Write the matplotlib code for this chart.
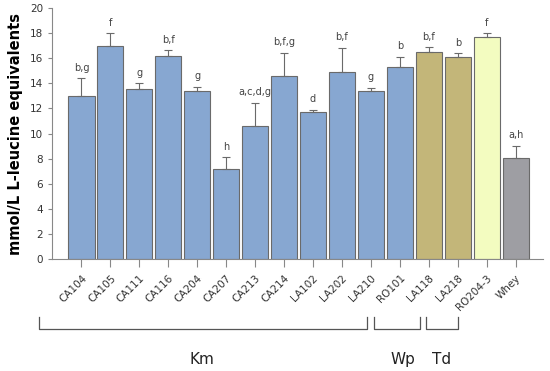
import numpy as np
import matplotlib.pyplot as plt
import matplotlib.transforms as mtransforms

# Dados
cepas = ["CA104", "CA105", "CA111", "CA116", "CA204", "CA207", "CA213", "CA214",
         "LA102", "LA202", "LA210", "RO101", "LA118", "LA218", "RO204-3", "Whey"]
medias = [13.0, 17.0, 13.55, 16.2, 13.4, 7.2, 10.6, 14.58,
          11.7, 14.93, 13.38, 15.3, 16.52, 16.1, 17.67, 8.09]
topo_erro = [14.4, 18.0, 14.0, 16.65, 13.75, 8.1, 12.45, 16.45,
             11.87, 16.85, 13.65, 16.1, 16.87, 16.39, 17.99, 9.02]
letras = ["b,g", "f", "g", "b,f", "g", "h", "a,c,d,g", "b,f,g",
          "d", "b,f", "g", "b", "b,f", "b", "f", "a,h"]
grupos = ["Km"] * 12 + ["Wp"] * 2 + ["Td", "Whey"]

cores_grupo = {"Km": "#87a7d1", "Wp": "#c3b679", "Td": "#f3fcc0", "Whey": "#9e9ea3"}
cores = [cores_grupo[g] for g in grupos]
erros = np.array(topo_erro) - np.array(medias)

x = np.arange(len(cepas))

fig = plt.figure(figsize=(5.5, 3.71), dpi=100)
ax = fig.add_axes([0.0945, 0.302, 0.892, 0.676])

ax.bar(x, medias, width=0.9, color=cores, edgecolor="#6a6a6a", linewidth=0.8,
       yerr=[np.zeros_like(erros), erros], capsize=3,
       error_kw=dict(ecolor="#6a6a6a", elinewidth=0.8, capthick=0.8))

for xi, t, l in zip(x, topo_erro, letras):
    ax.text(xi, t + 0.45, l, ha="center", va="bottom", fontsize=7, color="#444444")

ax.set_xlim(-1.02, 15.93)
ax.set_ylim(0, 20)
ax.set_yticks(range(0, 21, 2))
ax.set_xticks(x)
ax.set_xticklabels(cepas, rotation=45, ha="right", rotation_mode="anchor", fontsize=7.5,
                   color="#333333")
ax.tick_params(axis="y", labelsize=7.5, length=3, color="#888888", labelcolor="#333333")
ax.tick_params(axis="x", length=6, color="#888888", pad=4)
for s in ["top", "right"]:
    ax.spines[s].set_visible(False)
ax.spines["left"].set_color("#888888")
ax.spines["bottom"].set_color("#888888")
ax.set_ylabel("mmol/L L-leucine equivalents", fontsize=10.5, fontweight="bold", labelpad=5)

# Chaves dos grupos
trans = mtransforms.blended_transform_factory(ax.transData, ax.transAxes)
chaves = [("Km", -1.47, 9.88), ("Wp", 10.09, 11.71), ("Td", 11.9, 13.02)]
pos_texto = {"Km": 4.17, "Wp": 11.1, "Td": 12.43}
for nome, a, b in chaves:
    ax.plot([a, a, b, b], [-0.231, -0.279, -0.279, -0.231], transform=trans,
            color="#555555", lw=0.9, clip_on=False)
    ax.text(pos_texto[nome], -0.40, nome, transform=trans, ha="center", va="center",
            fontsize=11, color="#222222")

plt.savefig("out.png", dpi=100)
